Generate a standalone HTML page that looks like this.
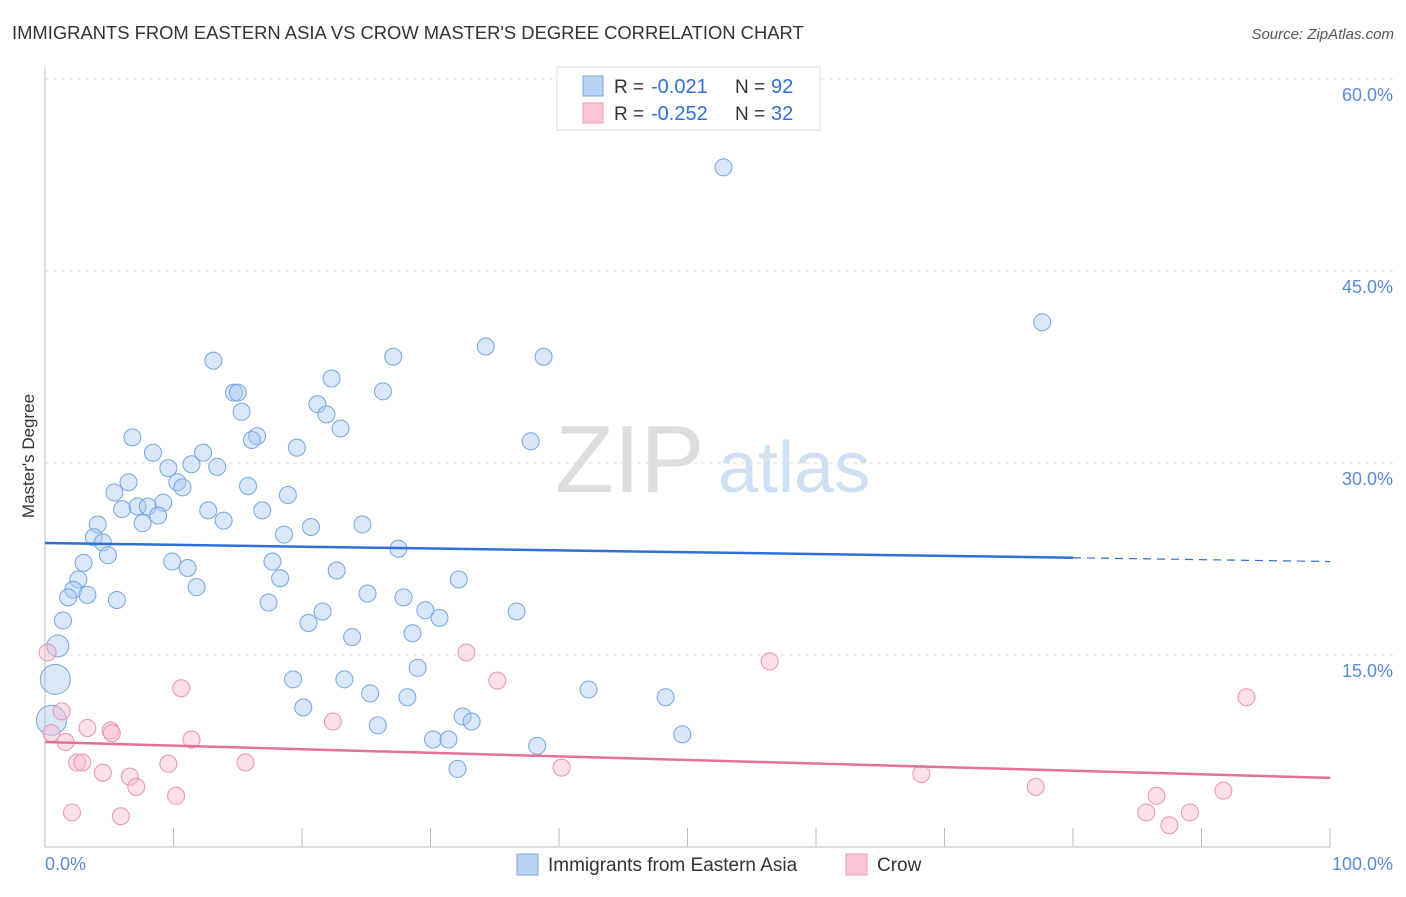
<!DOCTYPE html>
<html><head><meta charset="utf-8"><style>
body{margin:0;background:#fff;font-family:"Liberation Sans",sans-serif}
svg text{font-family:"Liberation Sans",sans-serif}
</style></head><body>
<svg id="c" width="1406" height="892" xmlns="http://www.w3.org/2000/svg">
<text x="12" y="39" font-size="18.4" fill="#333">IMMIGRANTS FROM EASTERN ASIA VS CROW MASTER'S DEGREE CORRELATION CHART</text>
<text x="1394" y="39" font-size="15" fill="#555" font-style="italic" text-anchor="end">Source: ZipAtlas.com</text>
<text x="34" y="456" font-size="17" fill="#333" text-anchor="middle" transform="rotate(-90 34 456)">Master's Degree</text>
<text x="555" y="492" font-size="96" fill="#ddd" font-family="Liberation Serif">ZIP</text>
<text x="718" y="492" font-size="72" fill="#cfe0f4">atlas</text>
<g id="grid"></g><g id="pts"></g><g id="trend"></g>
<g>
<rect x="557" y="67" width="263" height="63" fill="#fff" stroke="#ddd"/>
<rect x="583" y="76" width="20" height="20" fill="#b9d3f5" stroke="#7aa7e0"/>
<rect x="583" y="103" width="20" height="20" fill="#f8c6d6" stroke="#eb9bb6"/>
<text x="614" y="93" font-size="19" fill="#333">R =</text><text x="651" y="93" font-size="20" fill="#2f6fd6">-0.021</text>
<text x="735" y="93" font-size="19" fill="#333">N =</text><text x="771" y="93" font-size="20" fill="#2f6fd6">92</text>
<text x="614" y="120" font-size="19" fill="#333">R =</text><text x="651" y="120" font-size="20" fill="#2f6fd6">-0.252</text>
<text x="735" y="120" font-size="19" fill="#333">N =</text><text x="771" y="120" font-size="20" fill="#2f6fd6">32</text>
</g>
<g>
<rect x="517" y="854" width="21" height="21" fill="#b9d3f5" stroke="#7aa7e0"/>
<text x="548" y="871" font-size="19" fill="#333">Immigrants from Eastern Asia</text>
<rect x="846" y="854" width="21" height="21" fill="#f8c6d6" stroke="#eb9bb6"/>
<text x="877" y="871" font-size="19" fill="#333">Crow</text>
</g>
</svg>
<script>
const yTicks=[15,30,45,60];
const yTickLabels=["15.0%","30.0%","45.0%","60.0%"];
const xTickLabels=["0.0%","100.0%"];
const blueX=[52.8,77.6,34.3,38.8,27.1,13.1,22.3,26.3,14.7,15.0,21.2,15.3,21.9,23.0,6.8,16.5,16.1,37.8,19.6,8.4,12.3,11.4,13.4,9.6,10.3,10.7,6.5,15.8,5.4,18.9,7.2,6.0,8.0,9.2,12.7,16.9,8.8,7.6,13.9,24.7,20.7,4.1,3.8,18.6,4.5,27.5,4.9,9.9,3.0,11.1,17.7,22.7,32.2,2.6,18.3,2.2,11.8,3.3,1.8,5.6,25.1,27.9,17.4,29.6,21.6,36.7,30.7,20.5,1.4,28.6,23.9,1.0,29.0,19.3,23.3,42.3,48.3,25.3,28.2,0.8,20.1,32.5,33.2,25.9,0.5,49.6,30.2,31.4,38.3,32.1];
const blueY=[53.1,41.0,39.1,38.3,38.3,38.0,36.6,35.6,35.5,35.5,34.6,34.0,33.8,32.7,32.0,32.1,31.8,31.7,31.2,30.8,30.8,29.9,29.7,29.6,28.5,28.1,28.5,28.2,27.7,27.5,26.6,26.4,26.6,26.9,26.3,26.3,25.9,25.3,25.5,25.2,25.0,25.2,24.2,24.4,23.8,23.3,22.8,22.3,22.2,21.8,22.3,21.6,20.9,20.9,21.0,20.1,20.3,19.7,19.5,19.3,19.8,19.5,19.1,18.5,18.4,18.4,17.9,17.5,17.7,16.7,16.4,15.7,14.0,13.1,13.1,12.3,11.7,12.0,11.7,13.1,10.9,10.2,9.8,9.5,9.9,8.8,8.4,8.4,7.9,6.1];
const blueSize=[1,1,1,1,1,1,1,1,1,1,1,1,1,1,1,1,1,1,1,1,1,1,1,1,1,1,1,1,1,1,1,1,1,1,1,1,1,1,1,1,1,1,1,1,1,1,1,1,1,1,1,1,1,1,1,1,1,1,1,1,1,1,1,1,1,1,1,1,1,1,1,2,1,1,1,1,1,1,1,3,1,1,1,1,3,1,1,1,1,1];
const pinkX=[0.2,1.3,3.3,5.1,5.2,0.5,1.6,10.6,11.4,22.4,32.8,35.2,56.4,93.5,2.5,2.9,4.5,9.6,15.6,6.6,7.1,10.2,40.2,68.2,77.1,86.5,91.7,2.1,5.9,85.7,89.1,87.5];
const pinkY=[15.2,10.6,9.3,9.1,8.9,8.9,8.2,12.4,8.4,9.8,15.2,13.0,14.5,11.7,6.6,6.6,5.8,6.5,6.6,5.5,4.7,4.0,6.2,5.7,4.7,4.0,4.4,2.7,2.4,2.7,2.7,1.7];
const blueTrend=[[0,23.75],[80,22.6],[100,22.3]];
const pinkTrend=[[0,8.2],[100,5.4]];
const NS="http://www.w3.org/2000/svg";
const X=v=>45+v*12.85, Y=v=>847-v*12.8;
function mk(t,a,p){const e=document.createElementNS(NS,t);for(const k in a)e.setAttribute(k,a[k]);p.appendChild(e);return e;}
const g=document.getElementById('grid');
yTicks.forEach((t,i)=>{
 const l=mk('line',{x1:45,x2:1394,y1:Y(t),y2:Y(t),stroke:'#ddd','stroke-dasharray':'4 4'},g);
 
 
 const tx=mk('text',{x:1393,y:Y(t)+22,'font-size':18,fill:'#5a8ad8','text-anchor':'end'},g);tx.textContent=yTickLabels[i];
 
 
});
const ax=mk('line',{x1:45,x2:1330,y1:847,y2:847,stroke:'#bbb'},g);


const ay=mk('line',{x1:45,x2:45,y1:68,y2:847,stroke:'#bbb'},g);


for(let i=0;i<=10;i++){const t=mk('line',{x1:X(i*10),x2:X(i*10),y1:828,y2:847,stroke:'#bbb'},g);
 
 }
const xl0=mk('text',{x:45,y:870,'font-size':18,fill:'#5a8ad8'},g);xl0.textContent=xTickLabels[0];


const xl1=mk('text',{x:1393,y:870,'font-size':18,fill:'#5a8ad8','text-anchor':'end'},g);xl1.textContent=xTickLabels[1];


const p=document.getElementById('pts');
blueX.forEach((v,i)=>{const c=mk('circle',{cx:X(v),cy:Y(blueY[i]),r:blueSize[i]==1?8.5:(blueSize[i]==2?11:15),fill:'rgba(170,202,242,0.45)',stroke:'#76a6e0','stroke-width':1},p);
 
 });
pinkX.forEach((v,i)=>{const c=mk('circle',{cx:X(v),cy:Y(pinkY[i]),r:8.5,fill:'rgba(246,186,208,0.45)',stroke:'#eb93b2','stroke-width':1},p);
 
 });
const tg=document.getElementById('trend');
const b1=mk('line',{x1:X(blueTrend[0][0]),y1:Y(blueTrend[0][1]),x2:X(blueTrend[1][0]),y2:Y(blueTrend[1][1]),stroke:'#2f6fd6','stroke-width':2.5},tg);


const b2=mk('line',{x1:X(blueTrend[1][0]),y1:Y(blueTrend[1][1]),x2:X(blueTrend[2][0]),y2:Y(blueTrend[2][1]),stroke:'#2f6fd6','stroke-width':1.2,'stroke-dasharray':'8 6'},tg);


const pl=mk('line',{x1:X(pinkTrend[0][0]),y1:Y(pinkTrend[0][1]),x2:X(pinkTrend[1][0]),y2:Y(pinkTrend[1][1]),stroke:'#e5709a','stroke-width':2.5},tg);


</script>
</body></html>
